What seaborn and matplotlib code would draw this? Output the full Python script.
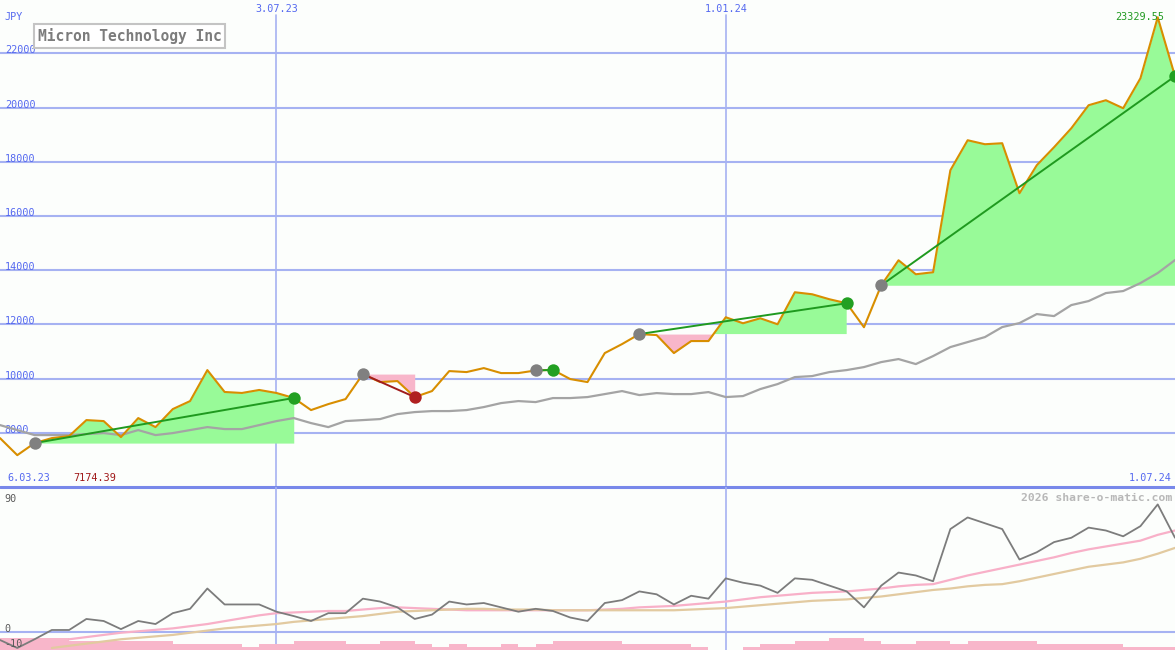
import numpy as np
import pandas as pd
import matplotlib
matplotlib.use("Agg")
import matplotlib.pyplot as plt
import matplotlib.transforms as mtransforms
import seaborn as sns

# weekly closing prices (JPY), 13.03.23 .. 1.07.24
price = [7804, 7174.39, 7620, 7804, 7878, 8469, 8432, 7841, 8543, 8210,
         8875, 9170, 10313, 9506, 9469, 9580, 9469, 9284, 8838, 9059,
         9244, 10166, 9871, 9908, 9318, 9539, 10277, 10240, 10387, 10203,
         10203, 10300, 10320, 9982, 9871, 10941, 11273, 11642, 11605, 10941,
         11384, 11384, 12262, 12041, 12225, 12004, 13185, 13111, 12927, 12779,
         11894, 13443, 14365, 13849, 13923, 17686, 18793, 18646, 18683, 16838,
         17871, 18535, 19236, 20085, 20269, 19974, 21081, 23329.55, 21155]

# moving average
ma = [8284, 8100, 7915, 7915, 7915, 7952, 7989, 7915, 8100, 7915,
      7989, 8100, 8210, 8137, 8137, 8284, 8432, 8543, 8358, 8210,
      8432, 8469, 8506, 8690, 8764, 8801, 8801, 8838, 8949, 9096,
      9170, 9133, 9281, 9281, 9318, 9428, 9539, 9391, 9465, 9428,
      9428, 9502, 9318, 9355, 9613, 9797, 10055, 10092, 10240, 10314,
      10424, 10609, 10720, 10535, 10830, 11162, 11347, 11531, 11900, 12048,
      12380, 12306, 12712, 12860, 13155, 13229, 13524, 13893, 14372]

# lower panel indicator
osc = [-5.5, -11, -5, 1.4, 1.4, 9, 7.6, 2, 7.6, 5.5,
       13, 16, 30, 19, 19, 19, 14, 11, 7.6, 13,
       13, 23, 21, 17, 9, 12, 21, 19, 20, 17,
       14, 16, 14.5, 10, 7.6, 20, 22, 28, 26, 19,
       25, 23, 37, 34, 32, 27, 37, 36, 32, 28,
       17, 32, 41, 39, 35, 71, 79, 75, 71, 50,
       55, 62, 65, 72, 70, 66, 73, 88, 65]
osc_fast = [np.nan, np.nan, np.nan, np.nan, -5, -3.5, -2, -0.5, 0.5, 1.5,
            2.5, 4, 5.5, 7.5, 9.5, 11.5, 13, 13.5, 14, 14.5,
            14.5, 15.5, 16.5, 17, 16.5, 16, 15.5, 15, 15, 15,
            15, 15, 15, 15, 15, 15.5, 16, 17, 17.5, 18,
            19, 20, 21, 22.5, 24, 25, 26, 27, 27.5, 28,
            29, 30, 31.5, 32.5, 33, 36, 39, 41.5, 44, 46.5,
            49, 51.5, 54.5, 57, 59, 61, 63, 67, 70]
osc_slow = [np.nan, np.nan, np.nan, -11, -9.5, -8, -6.5, -5, -4, -3,
            -2, -0.5, 1, 2.5, 3.5, 4.5, 5.5, 7, 8, 9,
            10, 11, 12.5, 14, 14.5, 15, 15.5, 16, 16, 15.5,
            15.5, 15.5, 15, 15, 15, 15, 15, 15, 15, 15,
            15.5, 16, 16.5, 17.5, 18.5, 19.5, 20.5, 21.5, 22, 22.5,
            23.5, 24.5, 26, 27.5, 29, 30, 31.5, 32.5, 33, 35,
            37.5, 40, 42.5, 45, 46.5, 48, 50.5, 54, 58]
# volume level per week
vol_level = [4, 4, 4, 4, 3, 3, 3, 3, 3, 3,
             2, 2, 2, 2, 1, 2, 2, 3, 3, 3,
             2, 2, 3, 3, 2, 1, 2, 1, 1, 2,
             1, 2, 3, 3, 3, 3, 2, 2, 2, 2,
             1, 0, 0, 1, 2, 2, 3, 3, 4, 4,
             3, 2, 2, 3, 3, 2, 3, 3, 3, 3,
             2, 2, 2, 2, 2, 1, 1, 1]

trend_start = [2, 21, 31, 37, 51]
trend_end = [17, 24, 32, 49, 68]

price_ticks = [8000, 10000, 12000, 14000, 16000, 18000, 20000, 22000]
date_ticks = [16, 42]
date_labels = ["3.07.23", "1.01.24"]
first_label = "6.03.23"
last_label = "1.07.24"
min_label = "7174.39"
max_label = "23329.55"
osc_ticks = [90, 0, -10]

bg = "#fcfefc"
grid = "#a6b2f2"
blue_txt = "#5468f0"
green = "#98fa98"
pink = "#f8b6ca"
mono = "DejaVu Sans Mono"

sns.set_style("white")
plt.rcParams["font.family"] = [mono, "DejaVu Sans"]

weeks = np.arange(len(price))
df = pd.DataFrame({"week": weeks, "price": price, "ma": ma, "osc": osc,
                   "fast": osc_fast, "slow": osc_slow})

fig = plt.figure(figsize=(11.75, 6.5), dpi=100, facecolor=bg)
ax = fig.add_axes([0, 163 / 650, 1, 487 / 650])
ax2 = fig.add_axes([0, 0, 1, 163 / 650])
for a in (ax, ax2):
    a.set_axis_off()
    a.set_xlim(0, len(price) - 1)
ax.set_ylim(6000, 23967)
ax2.set_ylim(-12.4, 100)

# grid
for t in price_ticks:
    ax.axhline(t, color=grid, lw=1.5, zorder=0)
    ax.text(0.004, t, str(t), transform=mtransforms.blended_transform_factory(ax.transAxes, ax.transData),
            fontsize=7.3, color=blue_txt, va="baseline", ha="left", zorder=1)
for d, lab in zip(date_ticks, date_labels):
    ax.axvline(d, ymax=1 - 15 / 487, color=grid, lw=1.2, zorder=0)
    ax2.axvline(d, color=grid, lw=1.2, zorder=0)
    ax.text(d, 0.992, lab, transform=mtransforms.blended_transform_factory(ax.transData, ax.transAxes),
            fontsize=7.3, color=blue_txt, ha="center", va="top")
ax.text(0.004, 0.975, "JPY", transform=ax.transAxes, fontsize=7.3, color=blue_txt, va="top")
ax2.axhline(0, color=grid, lw=1.5, zorder=0)

# trend fills, lines and markers
for s, e in zip(trend_start, trend_end):
    xs = weeks[s:e + 1]
    ys = np.array(price[s:e + 1])
    base = price[s]
    ax.fill_between(xs, base, ys, where=ys >= base, interpolate=True, color=green, lw=0, zorder=1)
    ax.fill_between(xs, base, ys, where=ys <= base, interpolate=True, color=pink, lw=0, zorder=1)

sns.lineplot(data=df, x="week", y="ma", ax=ax, color="#a4a4a4", lw=1.6, zorder=2)
sns.lineplot(data=df, x="week", y="price", ax=ax, color="#d88e00", lw=1.5, zorder=3)

for s, e in zip(trend_start, trend_end):
    up = price[e] >= price[s]
    ax.plot([s, e], [price[s], price[e]], color="#1f9a1f" if up else "#a01c1c", lw=1.4, zorder=4)
    ax.scatter([s], [price[s]], s=80, color="#808080", lw=0, zorder=5)
    ax.scatter([e], [price[e]], s=80, color="#22a022" if up else "#b02020", lw=0, zorder=5)

imax = int(np.argmax(price))
ax.annotate(max_label, xy=(imax, price[imax]), xytext=(5, 0), textcoords="offset points",
            ha="right", va="center", fontsize=7.3, color="#229a22", zorder=6)

ax.text(0.006, 0.008, first_label, transform=ax.transAxes, fontsize=7.3, color=blue_txt, va="bottom")
ax.text(0.062, 0.008, min_label, transform=ax.transAxes, fontsize=7.3, color="#a01818", va="bottom")
ax.text(0.9975, 0.008, last_label, transform=ax.transAxes, fontsize=7.3, color=blue_txt, va="bottom", ha="right")
ax.axhline(6000, color="#7888ea", lw=2.2, zorder=6, clip_on=False)

# title box
fig.text(38 / 1175, 1 - 36 / 650, "Micron Technology Inc", fontsize=10.5, fontweight="bold",
         color="#7c7c7c", va="center", ha="left",
         bbox=dict(boxstyle="square,pad=0.25", fc="white", ec="#c4c4c4", lw=1.5))

# lower panel
ax2.bar(weeks[:-1], np.array(vol_level) * 2.07, width=1.0, align="edge", bottom=-12.4,
        color=pink, lw=0, zorder=1)
sns.lineplot(data=df, x="week", y="fast", ax=ax2, color="#f8b0c8", lw=1.6, zorder=2)
sns.lineplot(data=df, x="week", y="slow", ax=ax2, color="#e2caa0", lw=1.6, zorder=2)
sns.lineplot(data=df, x="week", y="osc", ax=ax2, color="#7c7c7c", lw=1.3, zorder=3)
for t in osc_ticks:
    ax2.text(0.004, t, str(t), transform=mtransforms.blended_transform_factory(ax2.transAxes, ax2.transData),
             fontsize=7.3, color="#5a5a5a", va="baseline", ha="left", zorder=4)
ax2.text(0.9975, 0.93, "2026 share-o-matic.com", transform=ax2.transAxes, fontsize=8.2,
         fontweight="bold", color="#b8b8b8", ha="right", va="center")

fig.savefig("out.png", dpi=100, facecolor=bg)
